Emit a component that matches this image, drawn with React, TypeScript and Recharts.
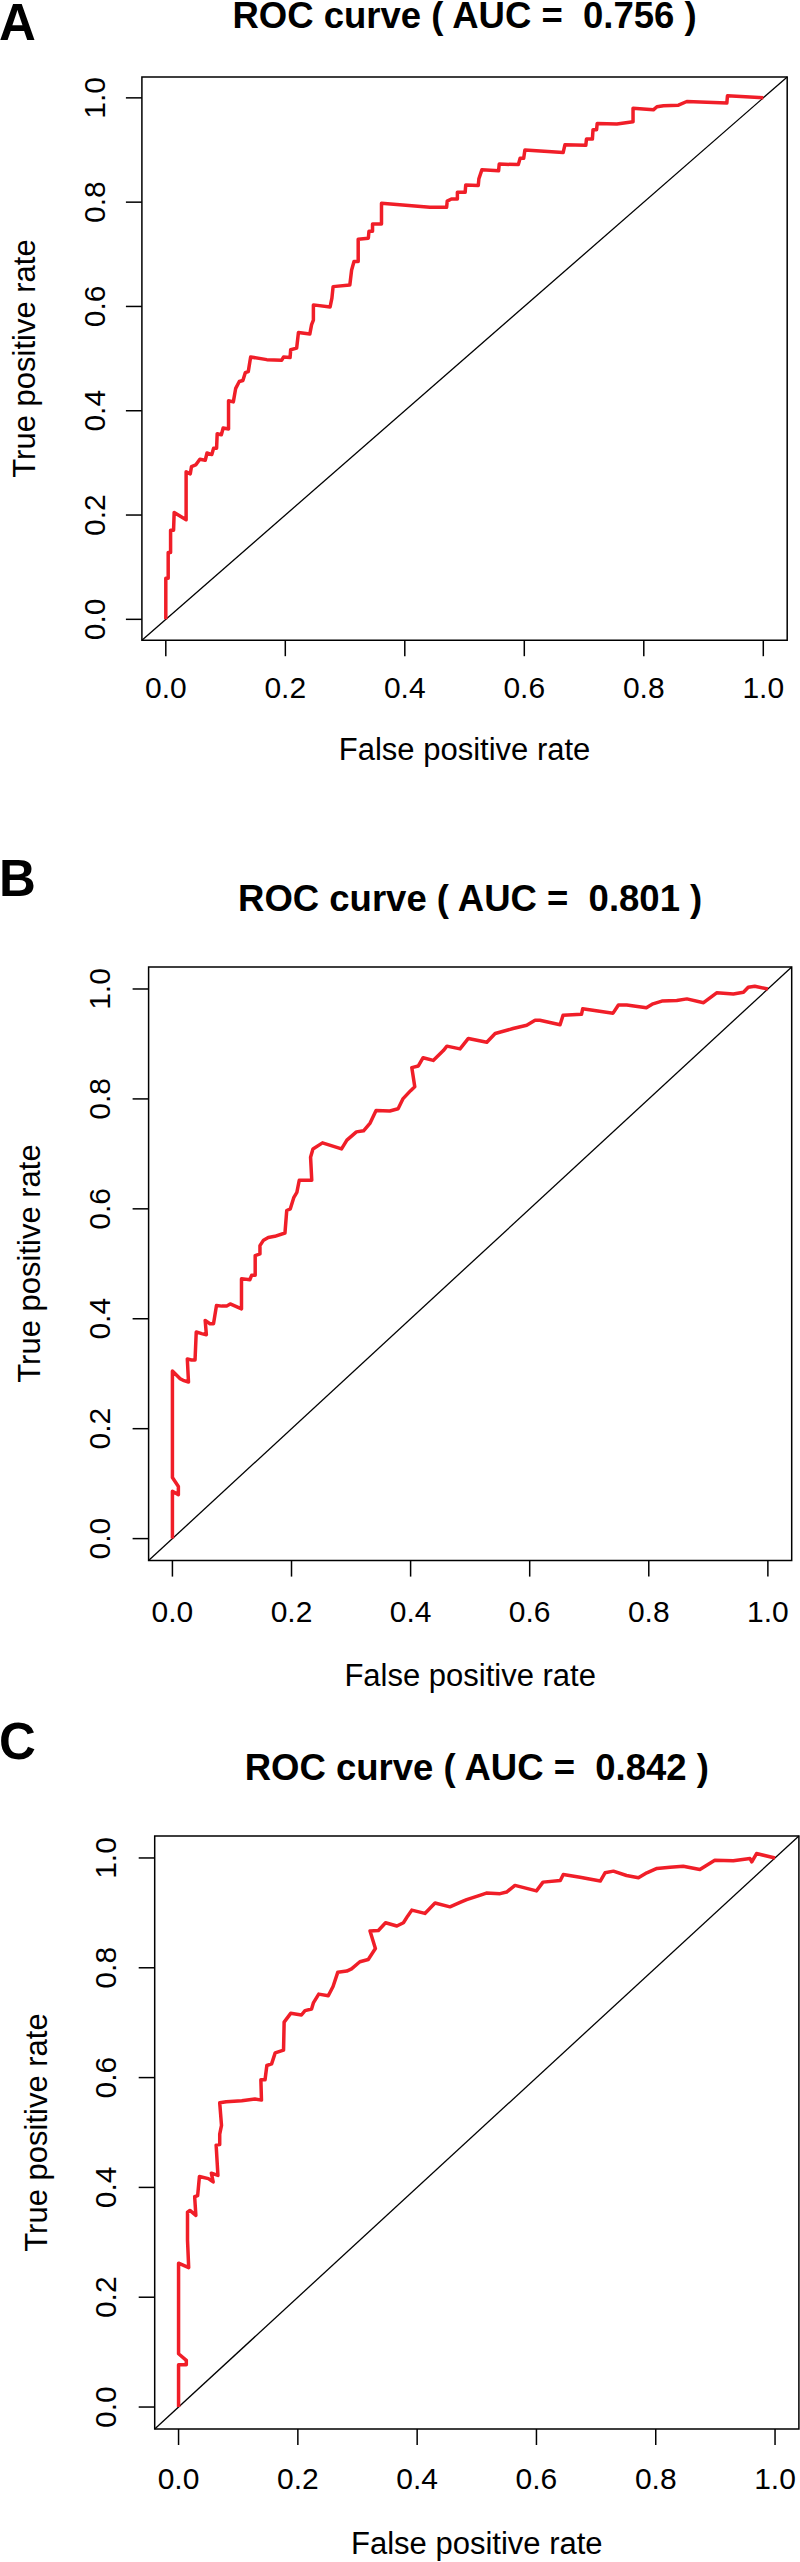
import React from 'react'
import { LineChart, Line, XAxis, YAxis, ReferenceArea, ReferenceLine } from 'recharts'

// ROC points (false positive rate / true positive rate)
const fprA = [0, 0, 0.004, 0.004, 0.008, 0.008, 0.013, 0.014, 0.034, 0.034, 0.041, 0.043, 0.05, 0.057, 0.066, 0.069, 0.077, 0.08, 0.085, 0.086, 0.093, 0.096, 0.105, 0.105, 0.113, 0.117, 0.123, 0.129, 0.133, 0.138, 0.142, 0.169, 0.194, 0.197, 0.208, 0.209, 0.219, 0.222, 0.241, 0.244, 0.247, 0.247, 0.275, 0.278, 0.28, 0.308, 0.311, 0.315, 0.322, 0.322, 0.339, 0.34, 0.346, 0.346, 0.361, 0.361, 0.442, 0.47, 0.471, 0.478, 0.488, 0.488, 0.501, 0.502, 0.523, 0.524, 0.529, 0.557, 0.558, 0.59, 0.593, 0.599, 0.601, 0.665, 0.668, 0.703, 0.704, 0.714, 0.715, 0.721, 0.722, 0.755, 0.782, 0.782, 0.816, 0.822, 0.833, 0.858, 0.872, 0.939, 0.94, 1]
const tprA = [0, 0.079, 0.079, 0.128, 0.128, 0.171, 0.171, 0.205, 0.191, 0.283, 0.279, 0.293, 0.296, 0.307, 0.305, 0.319, 0.316, 0.328, 0.328, 0.356, 0.354, 0.367, 0.365, 0.419, 0.417, 0.443, 0.456, 0.458, 0.473, 0.475, 0.503, 0.498, 0.497, 0.503, 0.502, 0.517, 0.52, 0.55, 0.547, 0.565, 0.574, 0.603, 0.599, 0.616, 0.638, 0.641, 0.67, 0.686, 0.686, 0.729, 0.731, 0.744, 0.744, 0.758, 0.758, 0.798, 0.79, 0.79, 0.802, 0.806, 0.806, 0.819, 0.819, 0.833, 0.832, 0.845, 0.862, 0.86, 0.873, 0.872, 0.884, 0.884, 0.9, 0.895, 0.91, 0.909, 0.921, 0.921, 0.939, 0.939, 0.951, 0.95, 0.954, 0.98, 0.977, 0.983, 0.985, 0.986, 0.993, 0.99, 1.004, 1]

const fprB = [0, 0, 0.01, 0.01, 0, 0, 0.013, 0.018, 0.027, 0.025, 0.032, 0.038, 0.04, 0.049, 0.057, 0.055, 0.063, 0.069, 0.074, 0.083, 0.091, 0.097, 0.116, 0.116, 0.13, 0.133, 0.139, 0.139, 0.147, 0.147, 0.153, 0.161, 0.172, 0.189, 0.192, 0.198, 0.204, 0.209, 0.213, 0.234, 0.232, 0.236, 0.252, 0.284, 0.293, 0.309, 0.321, 0.332, 0.342, 0.365, 0.379, 0.387, 0.4, 0.407, 0.402, 0.413, 0.421, 0.438, 0.455, 0.461, 0.483, 0.497, 0.528, 0.542, 0.572, 0.595, 0.609, 0.617, 0.651, 0.656, 0.687, 0.689, 0.74, 0.749, 0.763, 0.796, 0.807, 0.822, 0.847, 0.864, 0.892, 0.914, 0.942, 0.959, 0.967, 0.978, 1]
const tprB = [0, 0.086, 0.08, 0.095, 0.111, 0.305, 0.291, 0.288, 0.285, 0.327, 0.325, 0.325, 0.376, 0.373, 0.371, 0.397, 0.391, 0.391, 0.424, 0.423, 0.423, 0.427, 0.418, 0.473, 0.471, 0.479, 0.479, 0.515, 0.518, 0.533, 0.543, 0.548, 0.55, 0.556, 0.597, 0.6, 0.621, 0.63, 0.652, 0.652, 0.694, 0.709, 0.72, 0.709, 0.725, 0.74, 0.742, 0.756, 0.779, 0.778, 0.782, 0.8, 0.815, 0.822, 0.857, 0.86, 0.875, 0.87, 0.888, 0.896, 0.891, 0.91, 0.903, 0.919, 0.928, 0.934, 0.943, 0.943, 0.935, 0.952, 0.954, 0.964, 0.956, 0.971, 0.971, 0.966, 0.973, 0.978, 0.979, 0.982, 0.975, 0.993, 0.991, 0.994, 1.003, 1.005, 1]

const fprC = [0, 0, 0.013, 0.013, 0, 0, 0.017, 0.015, 0.015, 0.019, 0.029, 0.027, 0.032, 0.035, 0.05, 0.058, 0.055, 0.066, 0.063, 0.069, 0.069, 0.072, 0.069, 0.08, 0.106, 0.128, 0.139, 0.138, 0.145, 0.148, 0.156, 0.162, 0.176, 0.177, 0.188, 0.206, 0.212, 0.223, 0.226, 0.235, 0.251, 0.259, 0.267, 0.282, 0.29, 0.304, 0.318, 0.33, 0.321, 0.335, 0.347, 0.366, 0.377, 0.384, 0.391, 0.413, 0.43, 0.455, 0.472, 0.483, 0.505, 0.516, 0.539, 0.55, 0.564, 0.6, 0.611, 0.64, 0.645, 0.673, 0.707, 0.715, 0.729, 0.751, 0.771, 0.785, 0.802, 0.824, 0.846, 0.874, 0.899, 0.93, 0.958, 0.961, 0.969, 1]
const tprC = [0, 0.077, 0.077, 0.085, 0.097, 0.262, 0.254, 0.304, 0.355, 0.358, 0.349, 0.383, 0.385, 0.42, 0.416, 0.41, 0.426, 0.422, 0.477, 0.478, 0.497, 0.513, 0.554, 0.556, 0.558, 0.561, 0.559, 0.596, 0.596, 0.622, 0.625, 0.645, 0.65, 0.701, 0.717, 0.714, 0.722, 0.725, 0.736, 0.752, 0.749, 0.766, 0.792, 0.794, 0.798, 0.811, 0.815, 0.835, 0.867, 0.868, 0.882, 0.876, 0.882, 0.894, 0.905, 0.899, 0.918, 0.911, 0.919, 0.924, 0.932, 0.936, 0.935, 0.938, 0.95, 0.94, 0.956, 0.959, 0.97, 0.965, 0.958, 0.973, 0.976, 0.968, 0.964, 0.973, 0.981, 0.983, 0.985, 0.979, 0.996, 0.995, 0.999, 0.993, 1.008, 1]

const panelLetters = ['A', 'B', 'C']
const aucValues = ['0.756', '0.801', '0.842']
const axisTicks = [0, 0.2, 0.4, 0.6, 0.8, 1]

const FONT = '"Liberation Sans", Arial, Helvetica, sans-serif'
const TICK_FS = 30
const LAB_FS = 31
const TITLE_FS = 36.5
const LETTER_FS = 51
const TICK_LEN = 16
const RED = '#f01e28'

// page geometry of each panel (plot box and text baselines)
const layouts = [
  { boxL: 141.9, boxR: 787.2, boxT: 77.1, boxB: 640.3, letterBase: 40, titleBase: 28.5, xTickBase: 698, xTitleBase: 760, yTickBase: 104.6, yTitleBase: 35 },
  { boxL: 148.6, boxR: 791.7, boxT: 966.6, boxB: 1560.2, letterBase: 896.5, titleBase: 912.2, xTickBase: 1621.7, xTitleBase: 1686.7, yTickBase: 109.7, yTitleBase: 40.1 },
  { boxL: 154.7, boxR: 798.9, boxT: 1835.7, boxB: 2428.7, letterBase: 1759, titleBase: 1781.2, xTickBase: 2488.5, xTitleBase: 2554, yTickBase: 116.3, yTitleBase: 46.7 },
]

const zip = (xs: number[], ys: number[]) => xs.map((x, i) => ({ x, y: ys[i] }))
const series = [zip(fprA, tprA), zip(fprB, tprB), zip(fprC, tprC)]

function Txt({ x, base, size, bold, align = 'center', children }: any) {
  const w = 1000
  const left = align === 'center' ? x - w / 2 : x
  return (
    <div
      style={{
        position: 'absolute',
        left,
        top: base - 0.8465 * size,
        width: w,
        textAlign: align,
        fontSize: size,
        lineHeight: `${size}px`,
        fontFamily: FONT,
        fontWeight: bold ? 'bold' : 'normal',
        whiteSpace: 'pre',
        color: '#000',
      }}
    >
      {children}
    </div>
  )
}

function VTxt({ baseX, cy, size, children }: any) {
  const w = 600
  const cx = baseX - 0.3465 * size
  return (
    <div
      style={{
        position: 'absolute',
        left: cx - w / 2,
        top: cy - size / 2,
        width: w,
        height: size,
        textAlign: 'center',
        fontSize: size,
        lineHeight: `${size}px`,
        fontFamily: FONT,
        whiteSpace: 'pre',
        color: '#000',
        transform: 'rotate(-90deg)',
        transformOrigin: 'center center',
      }}
    >
      {children}
    </div>
  )
}

function RotTick({ x, y, payload }: any) {
  return (
    <text
      x={x}
      y={y}
      transform={`rotate(-90, ${x}, ${y})`}
      textAnchor="middle"
      fontSize={TICK_FS}
      fontFamily={FONT}
      fill="#000"
    >
      {Number(payload.value).toFixed(1)}
    </text>
  )
}

function Panel({ i }: { i: number }) {
  const L = layouts[i]
  const padTop = 20
  const xAxisH = 100
  const plotH = L.boxB - L.boxT
  const chartTop = L.boxT - padTop
  const chartH = padTop + plotH + xAxisH
  const cx = (L.boxL + L.boxR) / 2
  const cy = (L.boxT + L.boxB) / 2
  const xTickMargin = L.xTickBase - L.boxB - TICK_LEN - 0.71 * TICK_FS
  const yTickMargin = L.boxL - TICK_LEN - L.yTickBase

  return (
    <>
      <Txt x={-1} base={L.letterBase} size={LETTER_FS} bold align="left">
        {panelLetters[i]}
      </Txt>
      <Txt x={cx} base={L.titleBase} size={TITLE_FS} bold>
        {`ROC curve ( AUC =  ${aucValues[i]} )`}
      </Txt>
      <div style={{ position: 'absolute', left: 0, top: chartTop }}>
        <LineChart
          width={800}
          height={chartH}
          data={series[i]}
          margin={{ top: padTop, right: 800 - L.boxR, bottom: 0, left: 0 }}
        >
          <XAxis
            dataKey="x"
            type="number"
            domain={[-0.04, 1.04]}
            ticks={axisTicks}
            interval={0}
            allowDataOverflow
            height={xAxisH}
            axisLine={false}
            tickSize={TICK_LEN}
            tickMargin={xTickMargin}
            tickLine={{ stroke: '#000', strokeWidth: 1.5 }}
            tick={{ fontSize: TICK_FS, fill: '#000', fontFamily: FONT }}
            tickFormatter={(v: number) => v.toFixed(1)}
          />
          <YAxis
            type="number"
            domain={[-0.04, 1.04]}
            ticks={axisTicks}
            interval={0}
            allowDataOverflow
            width={L.boxL}
            axisLine={false}
            tickSize={TICK_LEN}
            tickMargin={yTickMargin}
            tickLine={{ stroke: '#000', strokeWidth: 1.5 }}
            tick={<RotTick />}
          />
          <ReferenceArea
            x1={-0.04}
            x2={1.04}
            y1={-0.04}
            y2={1.04}
            fill="none"
            fillOpacity={0}
            stroke="#000"
            strokeWidth={1.5}
          />
          <ReferenceLine
            segment={[
              { x: -0.04, y: -0.04 },
              { x: 1.04, y: 1.04 },
            ]}
            stroke="#000"
            strokeWidth={1.3}
          />
          <Line
            dataKey="y"
            type="linear"
            dot={false}
            activeDot={false}
            stroke={RED}
            strokeWidth={3.5}
            strokeLinejoin="round"
            isAnimationActive={false}
          />
        </LineChart>
      </div>
      <Txt x={cx} base={L.xTitleBase} size={LAB_FS}>
        False positive rate
      </Txt>
      <VTxt baseX={L.yTitleBase} cy={cy} size={LAB_FS}>
        True positive rate
      </VTxt>
    </>
  )
}

export default function App() {
  return (
    <div
      style={{
        position: 'absolute',
        left: 0,
        top: 0,
        width: 800,
        height: 2562,
        background: '#fff',
        overflow: 'hidden',
      }}
    >
      {[0, 1, 2].map((i) => (
        <Panel key={i} i={i} />
      ))}
    </div>
  )
}
